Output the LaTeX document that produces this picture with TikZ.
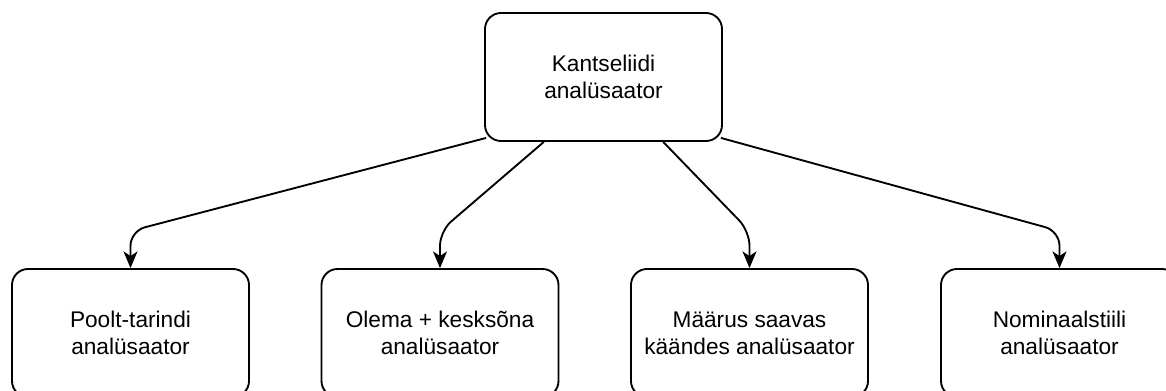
\documentclass[tikz,border=0pt]{standalone}
\usepackage{fontspec}
\setmainfont{Liberation Sans}
\usetikzlibrary{arrows.meta,calc}
\tikzset{
  box/.style={draw=black, line width=1.4pt, rounded corners=12pt, fill=white,
    minimum width=177.75pt, minimum height=96pt, inner sep=0pt, align=center,
    font=\fontsize{17}{20}\selectfont},
  edge/.style={draw=black, line width=1.4pt, rounded corners=11pt,
    -{Stealth[length=12.5pt,width=10.5pt,inset=3.5pt]}}
}
\begin{document}
\begin{tikzpicture}[x=0.75pt,y=-0.75pt]
\clip (0,0) rectangle (1166,390);
\fill[white] (0,0) rectangle (1166,390);
\node[box] (top) at (603.5,77) {Kantseliidi\\analüsaator};
\node[box] (b1) at (130.5,333) {Poolt-tarindi\\analüsaator};
\node[box] (b2) at (440,333) {Olema + kesksõna\\analüsaator};
\node[box] (b3) at (749.5,333) {Määrus saavas\\käändes analüsaator};
\node[box] (b4) at (1059.5,333) {Nominaalstiili\\analüsaator};
\draw[edge] ($(top.south west)+(2,-4)$) -- ($(b1.north)+(0,-37)$) -- (b1.north);
\draw[edge] ($(top.south west)!0.25!(top.south east)$) -- ($(b2.north)+(0,-37)$) -- (b2.north);
\draw[edge] ($(top.south west)!0.75!(top.south east)$) -- ($(b3.north)+(0,-37)$) -- (b3.north);
\draw[edge] ($(top.south east)+(-2,-4)$) -- ($(b4.north)+(0,-37)$) -- (b4.north);
\end{tikzpicture}
\end{document}
